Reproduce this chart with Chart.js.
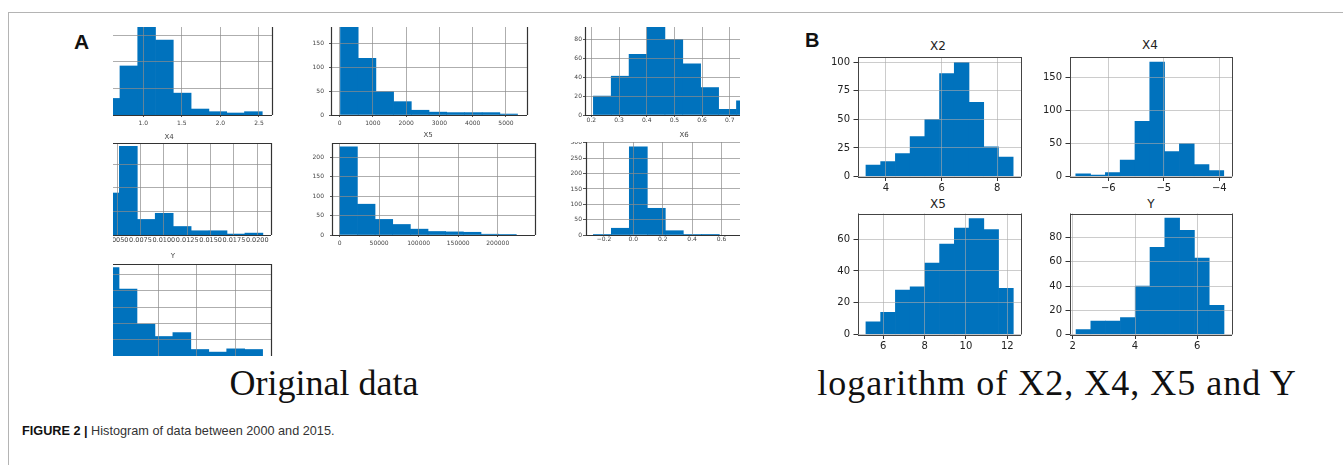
<!DOCTYPE html>
<html>
<head>
<meta charset="utf-8">
<title>Histogram of data between 2000 and 2015</title>
<script src="https://cdn.jsdelivr.net/npm/chart.js@4/dist/chart.umd.min.js"></script>
<style>
  html, body { margin: 0; padding: 0; background: #fff; }
  body { position: relative; width: 1343px; height: 465px; overflow: hidden; }
  canvas { position: absolute; }
  .txt { position: absolute; white-space: nowrap; line-height: 1; }
  .mid { transform: translateX(-50%); }
  .rule { position: absolute; background: #b4b4b4; }
  .tag { font-family: "Liberation Sans", Arial, sans-serif; font-weight: bold; color: #111; }
  .subA { font-family: "DejaVu Sans", sans-serif; font-size: 7px; color: #444; filter: blur(0.4px); }
  .subB { font-family: "DejaVu Sans", sans-serif; font-size: 12px; color: #222; }
  .big { font-family: "Liberation Serif", "Times New Roman", serif; font-size: 36px; color: #111; }
  .cap { font-family: "Liberation Sans", Arial, sans-serif; font-size: 12.7px; color: #333; }
  .cap b { color: #111; }
</style>
</head>
<body>
<div class="rule" style="left:8px; top:12px; width:1335px; height:1px;"></div>
<div class="rule" style="left:8px; top:12px; width:1px; height:453px;"></div>

<div class="txt tag" style="left:74px; top:30.5px; font-size:21px;">A</div>
<div class="txt tag" style="left:805px; top:30.4px; font-size:20px;">B</div>

<div class="txt subA mid" style="left:169px; top:133.6px;">X4</div>
<div class="txt subA mid" style="left:428px; top:131.6px;">X5</div>
<div class="txt subA mid" style="left:684px; top:131.6px;">X6</div>
<div class="txt subA mid" style="left:173px; top:252.6px;">Y</div>

<div class="txt subB mid" style="left:938px; top:39.5px;">X2</div>
<div class="txt subB mid" style="left:1150px; top:39.3px;">X4</div>
<div class="txt subB mid" style="left:938px; top:197.5px;">X5</div>
<div class="txt subB mid" style="left:1151px; top:197.5px;">Y</div>

<div class="txt big mid" style="left:324px; top:365px;">Original data</div>
<div class="txt big mid" style="left:1057px; top:365px; letter-spacing:1px;">logarithm of X2, X4, X5 and Y</div>

<div class="txt cap" style="left:22px; top:424.5px;"><b>FIGURE 2 |</b> Histogram of data between 2000 and 2015.</div>

<script>
// ---------------- Panel A: raw variables (bin edges, counts, ticks) ----------------
const rawX1Edges  = [0.466, 0.697, 0.928, 1.158, 1.389, 1.620, 1.851, 2.082, 2.312, 2.543];
const rawX1Counts = [25, 74, 150, 113, 33, 9, 5, 3, 5];
const rawX1Ticks  = [1.0, 1.5, 2.0, 2.5];
const rawX1Labels = ['1.0', '1.5', '2.0', '2.5'];
const rawX1Grid   = [40, 80, 120];

const rawX2Edges  = [27, 559, 1091, 1623, 2155, 2687, 3219, 3751, 4283, 4815, 5347];
const rawX2Counts = [187, 119, 49, 28, 10, 6, 5, 5, 5, 2];
const rawX2Ticks  = [0, 1000, 2000, 3000, 4000, 5000];
const rawX2Labels = ['0', '1000', '2000', '3000', '4000', '5000'];
const rawX2Count  = [0, 50, 100, 150];

const rawX3Edges  = [0.207, 0.272, 0.336, 0.401, 0.466, 0.530, 0.595, 0.660, 0.724, 0.789];
const rawX3Counts = [20, 41, 64, 100, 80, 54, 29, 6, 15];
const rawX3Ticks  = [0.2, 0.3, 0.4, 0.5, 0.6, 0.7];
const rawX3Labels = ['0.2', '0.3', '0.4', '0.5', '0.6', '0.7'];
const rawX3Count  = [0, 20, 40, 60, 80];

const rawX4Edges  = [0.00332, 0.00524, 0.00716, 0.00908, 0.0110, 0.01292, 0.01484, 0.01676, 0.01868, 0.0206];
const rawX4Counts = [89, 188, 33, 46, 18, 9, 9, 2, 4];
const rawX4Ticks  = [0.0050, 0.0075, 0.0100, 0.0125, 0.0150, 0.0175, 0.0200];
const rawX4Labels = ['0.0050', '0.0075', '0.0100', '0.0125', '0.0150', '0.0175', '0.0200'];
const rawX4Grid   = [50, 100, 150];

const rawX5Edges  = [180, 22510, 44840, 67170, 89500, 111830, 134160, 156490, 178820, 201150, 223480];
const rawX5Counts = [226, 79, 40, 27, 15, 9, 8, 7, 2, 1];
const rawX5Ticks  = [0, 50000, 100000, 150000, 200000];
const rawX5Labels = ['0', '50000', '100000', '150000', '200000'];
const rawX5Count  = [0, 50, 100, 150, 200];

const rawX6Edges  = [-0.272, -0.150, -0.027, 0.095, 0.218, 0.340, 0.463, 0.585];
const rawX6Counts = [2, 22, 287, 87, 14, 2, 1];
const rawX6Ticks  = [-0.2, 0.0, 0.2, 0.4, 0.6];
const rawX6Labels = ['\u22120.2', '0.0', '0.2', '0.4', '0.6'];
const rawX6Count  = [0, 50, 100, 150, 200, 250, 300];

const rawYEdges   = [96.2, 190.5, 284.8, 379.1, 473.4, 567.7, 662.0, 756.3, 850.6, 944.9];
const rawYCounts  = [136, 103, 49, 30, 36, 10, 6, 11, 10];
const rawYTicks   = [400, 600, 800];
const rawYGrid    = [25, 50, 75, 100, 125];

// ---------------- Panel B: log-transformed variables ----------------
const logX2Edges  = [3.280, 3.809, 4.338, 4.867, 5.396, 5.925, 6.454, 6.983, 7.512, 8.041, 8.570];
const logX2Counts = [10, 13, 20, 35, 50, 90, 100, 65, 26, 17];
const logX2Ticks  = [4, 6, 8];
const logX2Labels = ['4', '6', '8'];
const logX2Count  = [0, 25, 50, 75, 100];

const logX4Edges  = [-6.586, -6.319, -6.053, -5.786, -5.519, -5.253, -4.986, -4.719, -4.452, -4.186, -3.919];
const logX4Counts = [4, 2, 6, 25, 84, 174, 38, 50, 18, 9];
const logX4Ticks  = [-6, -5, -4];
const logX4Labels = ['\u22126', '\u22125', '\u22124'];
const logX4Count  = [0, 50, 100, 150];

const logX5Edges  = [5.160, 5.873, 6.586, 7.299, 8.012, 8.725, 9.438, 10.151, 10.864, 11.577, 12.290];
const logX5Counts = [8, 14, 28, 30, 45, 57, 67, 73, 66, 29];
const logX5Ticks  = [6, 8, 10, 12];
const logX5Labels = ['6', '8', '10', '12'];
const logX5Count  = [0, 20, 40, 60];

const logYEdges   = [2.107, 2.582, 3.057, 3.532, 4.007, 4.482, 4.957, 5.432, 5.907, 6.382, 6.857];
const logYCounts  = [4, 11, 11, 14, 40, 72, 96, 86, 63, 24];
const logYTicks   = [2, 4, 6];
const logYLabels  = ['2', '4', '6'];
const logYCount   = [0, 20, 40, 60, 80];

const BAR_BLUE = 'rgb(0,114,189)';

// ---------------- styles ----------------
const styleA = (o) => Object.assign({
  blur: 0.45, font: 6, labelColor: '#444', grid: 'rgba(140,140,140,0.7)', tickColor: '#555',
  spineColor: '#333', spineWidth: 1.2,
  xtl: 2, xpad: 2.8, ytl: 2, ypad: 5, yw: 26, pt: 0, pr: 14, xh: 14, spines: 'lrb'
}, o);
const styleB = (o) => Object.assign({
  blur: 0, font: 10, labelColor: '#222', grid: 'rgba(170,170,170,0.6)', tickColor: '#333',
  spineColor: '#444', spineWidth: 1,
  xtl: 4.5, xpad: 1.5, ytl: 4.5, ypad: 3.5, yw: 36, pt: 4, pr: 8, xh: 20, spines: 'tlrb'
}, o);

// ---------------- subplot list (plot-area boxes in page pixels) ----------------
const subplots = [
  { edges: rawX1Edges, counts: rawX1Counts,
    x: { min: 0.607, max: 2.669, ticks: rawX1Ticks, labels: rawX1Labels },
    y: { min: 0, max: 132.8, ticks: rawX1Grid, labels: null },
    box: { l: 113, t: 27, r: 272, b: 115 },
    look: styleA({ spines: 'rb', yw: 0, ytl: 0 }) },
  { edges: rawX2Edges, counts: rawX2Counts,
    x: { min: -258, max: 5631, ticks: rawX2Ticks, labels: rawX2Labels },
    y: { min: 0, max: 184.5, ticks: rawX2Count, labels: rawX2Count.map(String) },
    box: { l: 331, t: 27, r: 527, b: 115 },
    look: styleA({ spines: 'lrb' }) },
  { edges: rawX3Edges, counts: rawX3Counts,
    x: { min: 0.177, max: 0.737, ticks: rawX3Ticks, labels: rawX3Labels },
    y: { min: 0, max: 93, ticks: rawX3Count, labels: rawX3Count.map(String) },
    box: { l: 585, t: 27, r: 740, b: 115 },
    look: styleA({ spines: 'lb', xpad: 0, ypad: 1, pr: 0 }) },
  { edges: rawX4Edges, counts: rawX4Counts,
    x: { min: 0.00456, max: 0.02147, ticks: rawX4Ticks, labels: rawX4Labels },
    y: { min: 0, max: 195, ticks: rawX4Grid, labels: null },
    box: { l: 113, t: 143, r: 271, b: 235 },
    look: styleA({ spines: 'trb', yw: 0, ytl: 0, font: 6.5, xtl: 1, xpad: 0 }) },
  { edges: rawX5Edges, counts: rawX5Counts,
    x: { min: -9600, max: 247100, ticks: rawX5Ticks, labels: rawX5Labels },
    y: { min: 0, max: 236, ticks: rawX5Count, labels: rawX5Count.map(String) },
    box: { l: 332, t: 143, r: 535, b: 235 },
    look: styleA({ spines: 'tlrb', ypad: 6 }) },
  { edges: rawX6Edges, counts: rawX6Counts,
    x: { min: -0.322, max: 0.726, ticks: rawX6Ticks, labels: rawX6Labels },
    y: { min: 0, max: 303, ticks: rawX6Count, labels: rawX6Count.map(String) },
    box: { l: 586, t: 142, r: 740, b: 235 },
    look: styleA({ spines: 'lb', xtl: 1, xpad: 0.3, ytl: 3, ypad: 1, pr: 0 }) },
  { edges: rawYEdges, counts: rawYCounts,
    x: { min: 158.8, max: 989, ticks: rawYTicks, labels: null },
    y: { min: 0, max: 141.5, ticks: rawYGrid, labels: null },
    box: { l: 113, t: 264, r: 271, b: 356 },
    look: styleA({ spines: 'tr', yw: 0, ytl: 0, xtl: 0, xh: 0 }) },

  { edges: logX2Edges, counts: logX2Counts,
    x: { min: 2.994, max: 8.852, ticks: logX2Ticks, labels: logX2Labels },
    y: { min: 0, max: 104.6, ticks: logX2Count, labels: logX2Count.map(String) },
    box: { l: 858, t: 57, r: 1021, b: 176.5 },
    look: styleB({}) },
  { edges: logX4Edges, counts: logX4Counts,
    x: { min: -6.69, max: -3.771, ticks: logX4Ticks, labels: logX4Labels },
    y: { min: 0, max: 181.6, ticks: logX4Count, labels: logX4Count.map(String) },
    box: { l: 1070, t: 57, r: 1232, b: 176.5 },
    look: styleB({}) },
  { edges: logX5Edges, counts: logX5Counts,
    x: { min: 4.776, max: 12.663, ticks: logX5Ticks, labels: logX5Labels },
    y: { min: 0, max: 76.2, ticks: logX5Count, labels: logX5Count.map(String) },
    box: { l: 858, t: 213.5, r: 1021, b: 334.5 },
    look: styleB({}) },
  { edges: logYEdges, counts: logYCounts,
    x: { min: 1.913, max: 7.114, ticks: logYTicks, labels: logYLabels },
    y: { min: 0, max: 99.8, ticks: logYCount, labels: logYCount.map(String) },
    box: { l: 1070, t: 213.5, r: 1232, b: 334.5 },
    look: styleB({}) }
];

// ---------------- rendering ----------------
Chart.defaults.font.family = "'DejaVu Sans', sans-serif";
Chart.defaults.animation = false;
Chart.defaults.events = [];
Chart.defaults.plugins.legend.display = false;
Chart.defaults.plugins.tooltip.enabled = false;

// axis frame lines drawn on the chosen sides of the plot area
const spinePlugin = {
  id: 'spines',
  afterDraw(chart, args, opts) {
    const a = chart.chartArea, ctx = chart.ctx, s = opts.sides || '';
    const px = (v) => Math.round(v) + 0.5;
    ctx.save();
    ctx.strokeStyle = opts.color;
    ctx.lineWidth = opts.width;
    ctx.beginPath();
    if (s.includes('t')) { ctx.moveTo(a.left, px(a.top)); ctx.lineTo(a.right, px(a.top)); }
    if (s.includes('b')) { ctx.moveTo(a.left, px(a.bottom)); ctx.lineTo(a.right, px(a.bottom)); }
    if (s.includes('l')) { ctx.moveTo(px(a.left), a.top); ctx.lineTo(px(a.left), a.bottom); }
    if (s.includes('r')) { ctx.moveTo(px(a.right), a.top); ctx.lineTo(px(a.right), a.bottom); }
    ctx.stroke();
    ctx.restore();
  }
};

// fix each axis band to a set size so the plot area lands where intended
function pinAxis(size, horizontal) {
  return (scale) => {
    if (horizontal) scale.height = size; else scale.width = size;
    scale.paddingLeft = scale.paddingRight = scale.paddingTop = scale.paddingBottom = 0;
  };
}

function axisOptions(ax, L, horizontal, bandSize) {
  const tl = horizontal ? L.xtl : L.ytl;
  return {
    type: 'linear', min: ax.min, max: ax.max, offset: false,
    afterBuildTicks: (s) => { s.ticks = ax.ticks.map((v) => ({ value: v })); },
    afterFit: pinAxis(bandSize, horizontal),
    grid: { offset: false, color: L.grid, lineWidth: 1, z: 1,
            drawTicks: tl > 0, tickLength: tl, tickColor: L.tickColor, tickWidth: 1 },
    border: { display: false },
    ticks: { display: !!ax.labels, autoSkip: false, maxRotation: 0, minRotation: 0,
             padding: horizontal ? L.xpad : L.ypad, color: L.labelColor,
             font: { size: L.font },
             callback: (v, i) => (ax.labels ? ax.labels[i] : '') }
  };
}

function drawHistogram(h) {
  const L = h.look, B = h.box;
  const left = Math.floor(B.l - L.yw), top = Math.floor(B.t - L.pt);
  const right = Math.ceil(B.r + L.pr), bottom = Math.ceil(B.b + L.xh);
  const cv = document.createElement('canvas');
  cv.width = right - left;
  cv.height = bottom - top;
  cv.style.left = left + 'px';
  cv.style.top = top + 'px';
  if (L.blur) cv.style.filter = 'blur(' + L.blur + 'px)';
  document.body.appendChild(cv);

  const points = h.counts.map((n, i) => ({ x: (h.edges[i] + h.edges[i + 1]) / 2, y: n }));

  new Chart(cv, {
    type: 'bar',
    data: { datasets: [{ data: points, backgroundColor: BAR_BLUE, borderWidth: 0,
                         barPercentage: 1, categoryPercentage: 1, clip: 0 }] },
    options: {
      responsive: false,
      maintainAspectRatio: false,
      layout: { padding: { left: 0, top: B.t - top, right: right - B.r, bottom: 0 } },
      scales: {
        x: axisOptions(h.x, L, true, bottom - B.b),
        y: axisOptions(h.y, L, false, B.l - left)
      },
      plugins: { spines: { sides: L.spines, color: L.spineColor, width: L.spineWidth } }
    },
    plugins: [spinePlugin]
  });
}

subplots.forEach(drawHistogram);
</script>
</body>
</html>
